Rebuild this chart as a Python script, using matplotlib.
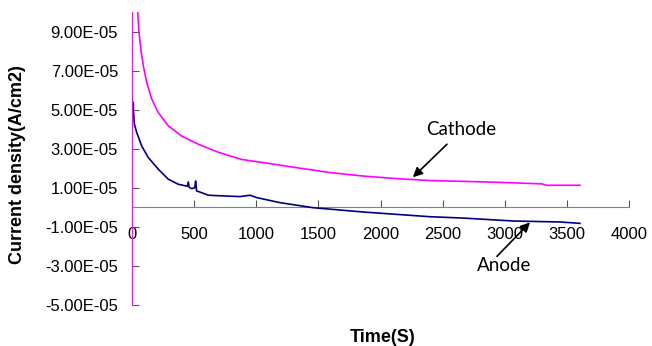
import matplotlib
matplotlib.use("Agg")
import matplotlib.pyplot as plt

# Cathode (magenta) current density vs time
cathode_t = [0, 0, 30, 46, 56, 72, 91, 118, 159, 212, 292, 400, 534, 695, 883, 1057,
             1325, 1594, 1862, 2130, 2398, 2666, 3002, 3300, 3337, 3605]
cathode_v = [-5.0e-5, 1.2e-4, 1.06e-4, 9.98e-5, 8.99e-5, 8.05e-5, 7.25e-5, 6.4e-5, 5.54e-5,
             4.85e-5, 4.17e-5, 3.65e-5, 3.23e-5, 2.82e-5, 2.45e-5, 2.29e-5, 2.03e-5,
             1.78e-5, 1.6e-5, 1.47e-5, 1.37e-5, 1.33e-5, 1.27e-5, 1.2e-5, 1.13e-5, 1.13e-5]

# Anode (navy) current density vs time
anode_t = [0, 11, 11, 19, 38, 78, 131, 212, 292, 373, 445, 453, 460, 480, 505, 512, 520,
           561, 614, 748, 870, 950, 1003, 1191, 1459, 1862, 2398, 2666, 3069, 3445, 3605]
anode_v = [5.4e-5, 5.37e-5, 5.0e-5, 4.26e-5, 3.83e-5, 3.14e-5, 2.55e-5, 1.95e-5, 1.44e-5,
           1.18e-5, 1.08e-5, 1.3e-5, 1.02e-5, 0.96e-5, 1.0e-5, 1.35e-5, 0.84e-5, 0.75e-5,
           0.62e-5, 0.58e-5, 0.55e-5, 0.62e-5, 0.5e-5, 0.24e-5, -0.02e-5, -0.24e-5,
           -0.48e-5, -0.55e-5, -0.7e-5, -0.75e-5, -0.82e-5]

yticks = [-5e-5, -3e-5, -1e-5, 1e-5, 3e-5, 5e-5, 7e-5, 9e-5]
xticks = [0, 500, 1000, 1500, 2000, 2500, 3000, 3500, 4000]

plt.rcParams['font.family'] = ['Liberation Sans', 'DejaVu Sans']

fig = plt.figure(figsize=(6.52, 3.46), dpi=100)
ax = fig.add_axes([132/652, 1-305/346, (629-132)/652, (305-12)/346])

ax.plot(anode_t, anode_v, color='#000080', lw=1.2, zorder=3)
ax.plot(cathode_t, cathode_v, color='#FF00FF', lw=1.2, zorder=4)

ax.set_xlim(0, 4000)
ax.set_ylim(-5e-5, 1e-4)
ax.spines['top'].set_visible(False)
ax.spines['right'].set_visible(False)
ax.spines['bottom'].set_position(('data', 0))
ax.spines['bottom'].set_color('#808080')
ax.spines['left'].set_color('#808080')

ax.set_xticks(xticks)
ax.set_xticklabels([str(x) for x in xticks])
ax.set_yticks(yticks)
ax.set_yticklabels(['%.2E' % v for v in yticks])
ax.tick_params(axis='x', direction='in', length=5, color='#555555', pad=14, labelsize=12)
ax.tick_params(axis='y', direction='in', length=5, color='#555555', pad=10, labelsize=12)

fig.text(18/652, 1-165/346, 'Current density(A/cm2)', rotation=90, ha='center', va='center',
         fontsize=13, fontweight='bold')
fig.text(383/652, 1-337/346, 'Time(S)', ha='center', va='center', fontsize=13, fontweight='bold')

arrow = dict(arrowstyle='-|>', color='black', lw=1.2, shrinkA=0, shrinkB=0, mutation_scale=14)
ax.text(2646, 4.0e-5, 'Cathode', ha='center', va='center', fontsize=13.5,
        family=['Lato', 'DejaVu Sans'])
ax.annotate('', xy=(2261, 1.54e-5), xytext=(2535, 3.23e-5), arrowprops=arrow)
ax.text(2994, -2.97e-5, 'Anode', ha='center', va='center', fontsize=13.5,
        family=['Lato', 'DejaVu Sans'])
ax.annotate('', xy=(3203, -0.77e-5), xytext=(2937, -2.51e-5), arrowprops=arrow)

fig.savefig('out.png', dpi=100)
